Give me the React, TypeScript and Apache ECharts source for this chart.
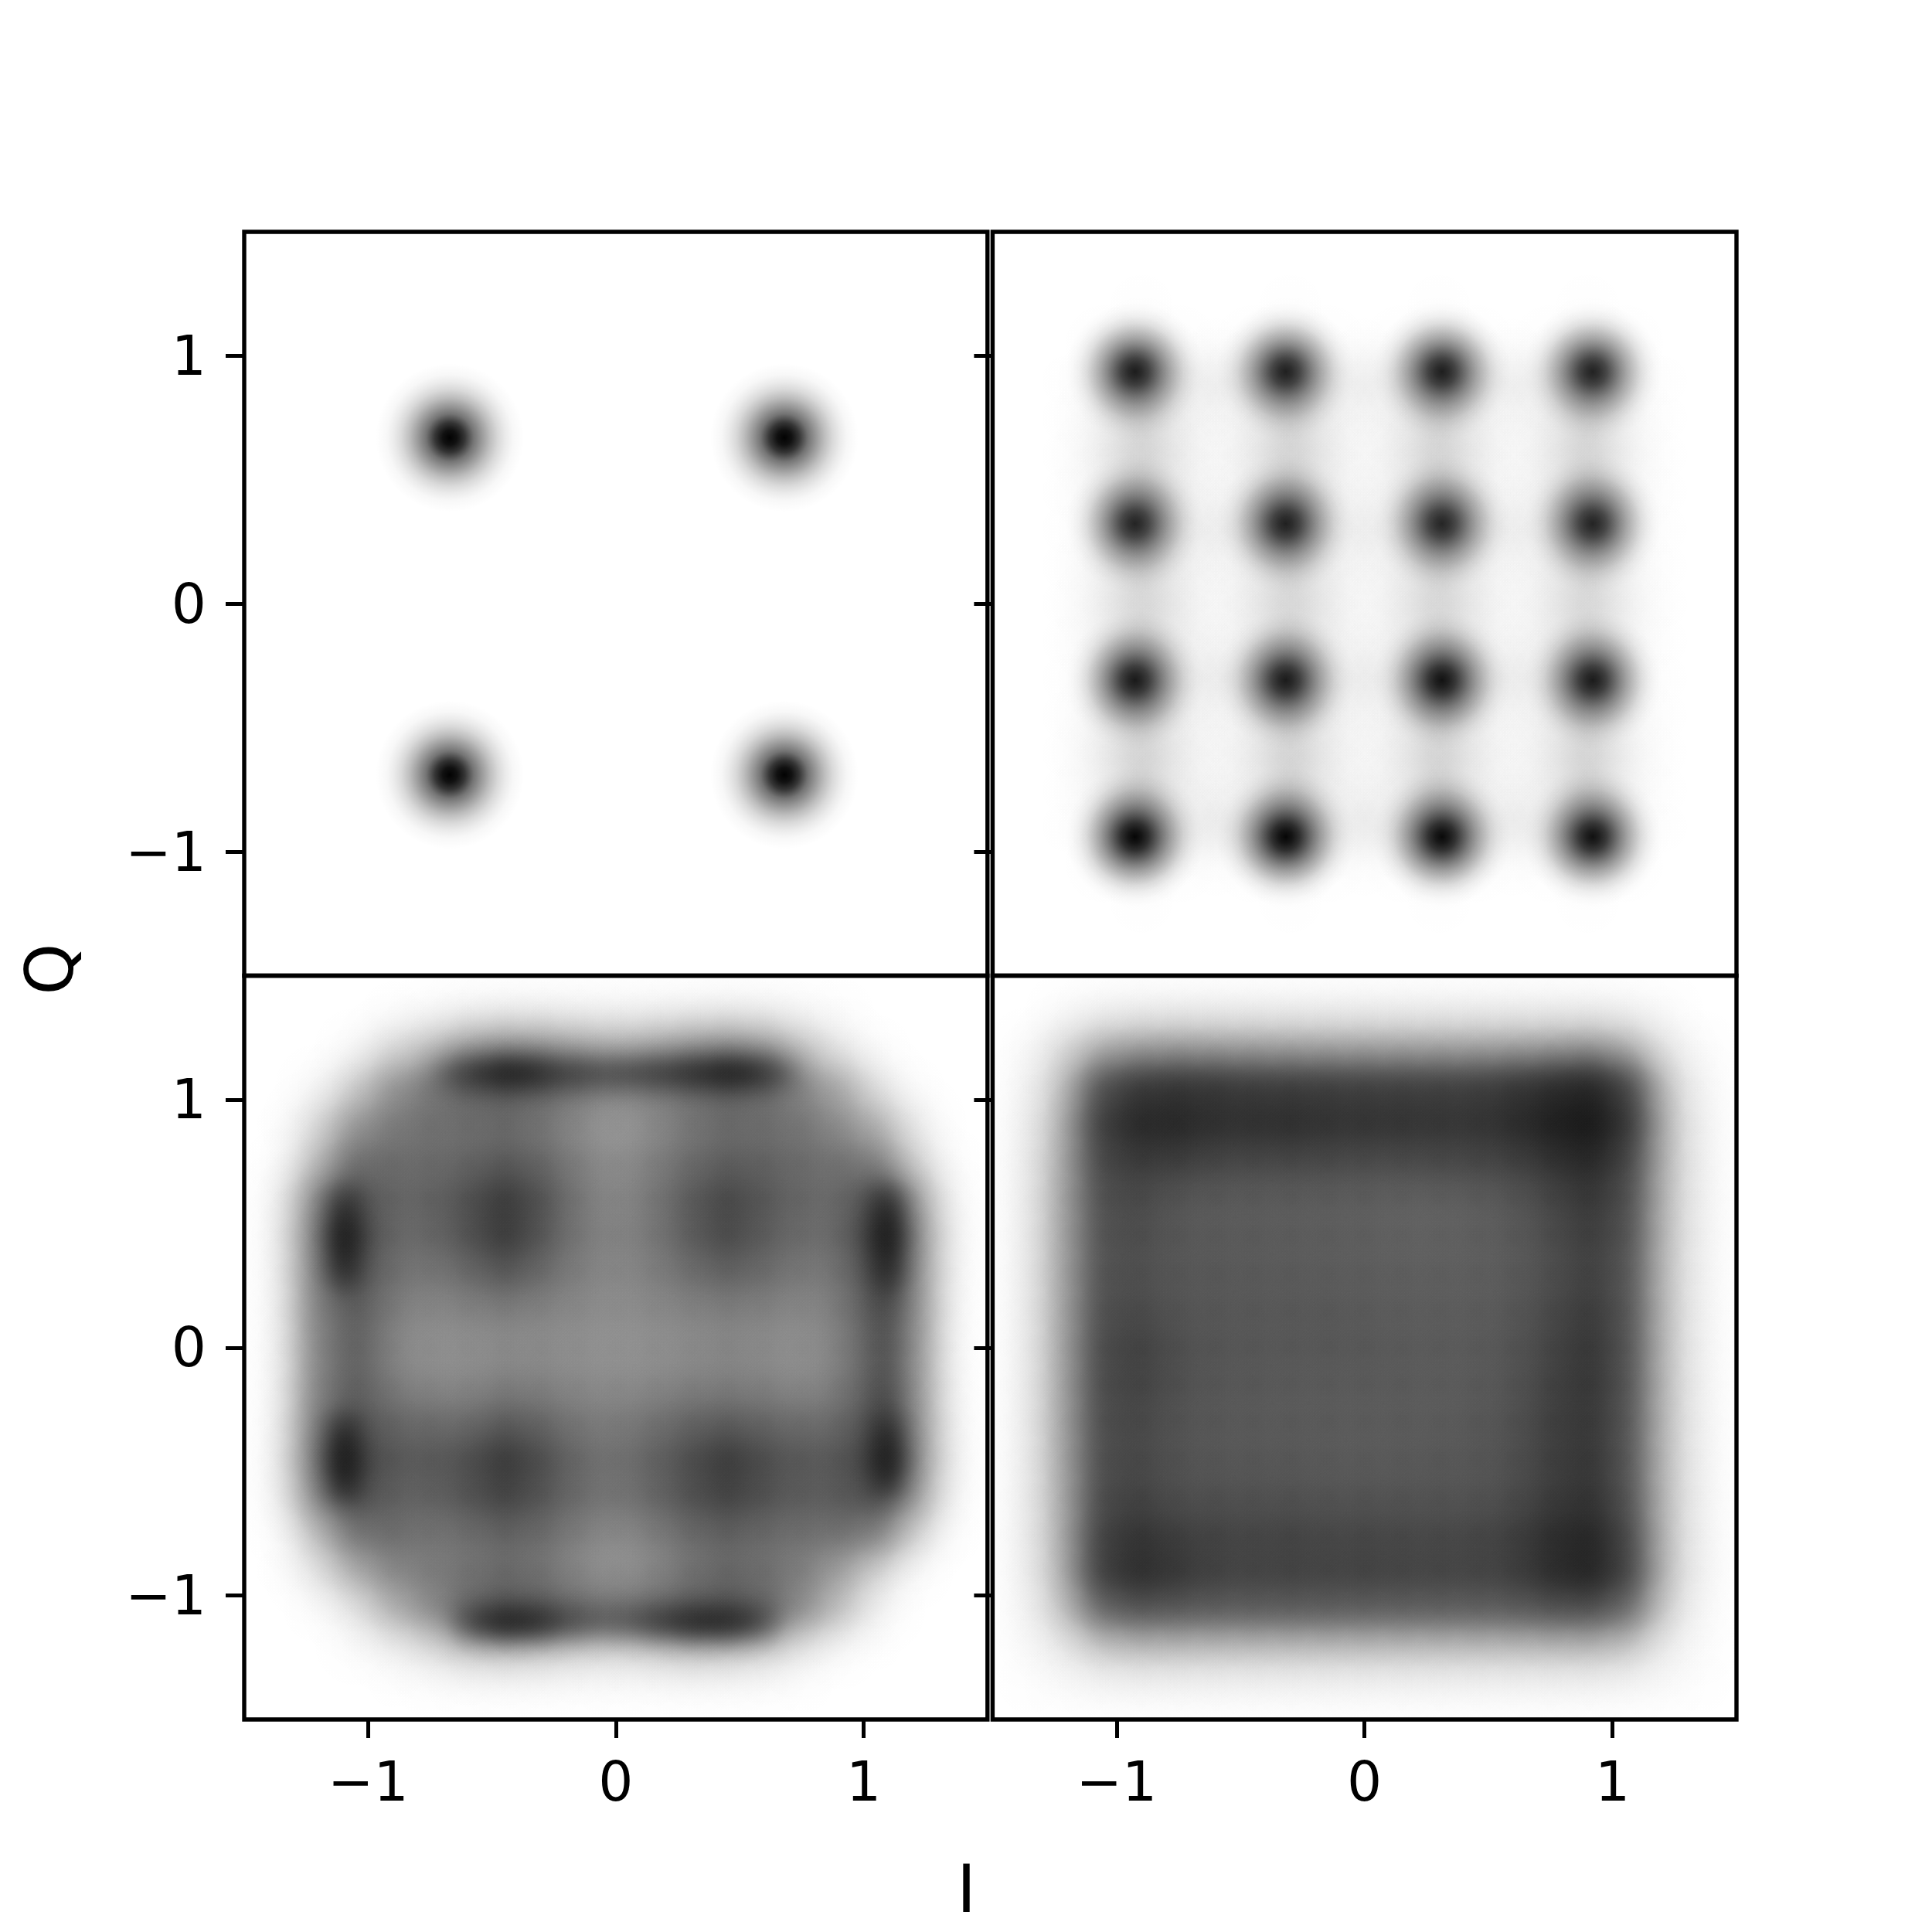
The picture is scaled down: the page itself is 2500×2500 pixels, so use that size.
import React, { useEffect, useRef } from "react";
import * as echarts from "echarts";

const tickValues = [-1, 0, 1];
const xLabel = "I";
const yLabel = "Q";

// peak grey of each constellation point: [I, Q, grey]
const qpskPoints = [
  [-0.67, 0.67, 2], [0.68, 0.67, 2],
  [-0.67, -0.69, 2], [0.68, -0.69, 2],
];
const qam16Points = [
  [-0.926, 0.936, 30], [-0.318, 0.936, 34], [0.312, 0.936, 32], [0.92, 0.936, 36],
  [-0.926, 0.323, 40], [-0.318, 0.323, 36], [0.312, 0.323, 42], [0.92, 0.323, 40],
  [-0.926, -0.308, 28], [-0.318, -0.308, 30], [0.312, -0.308, 20], [0.92, -0.308, 30],
  [-0.926, -0.94, 6], [-0.318, -0.94, 6], [0.312, -0.94, 10], [0.92, -0.94, 18],
];

// grey levels read on a grid: I from -1.5 to 1.5 by 0.15, Q from 1.5 down to -1.5 by 0.15
const qam16Haze = [
  [255,255,255,255,255,255,255,255,255,255,255,255,255,255,255,255,255,255,255,255,255],
  [255,255,255,255,255,255,255,255,255,255,255,255,255,255,255,255,255,255,255,255,255],
  [255,255,255,254,252,254,255,254,252,254,255,254,252,254,255,254,252,254,255,255,255],
  [255,255,254,250,244,250,253,250,244,250,253,250,244,250,253,250,244,250,254,255,255],
  [255,255,253,244,236,236,232,236,236,236,232,236,236,236,232,236,236,244,253,255,255],
  [255,255,253,238,202,236,247,236,202,236,247,236,202,236,247,236,202,240,253,255,255],
  [255,255,253,234,204,234,248,234,204,234,248,234,204,234,248,234,204,238,253,255,255],
  [255,255,253,238,198,236,247,236,198,236,247,236,198,236,247,236,198,240,253,255,255],
  [255,255,253,244,232,236,232,236,232,236,232,236,232,236,232,236,232,244,253,255,255],
  [255,255,253,238,204,236,247,236,204,236,247,236,204,236,247,236,204,240,253,255,255],
  [255,255,253,236,208,234,248,234,208,234,248,234,208,234,248,234,208,238,253,255,255],
  [255,255,253,238,204,236,247,236,204,236,247,236,204,236,247,236,204,240,253,255,255],
  [255,255,253,244,232,236,230,236,232,236,230,236,232,236,230,236,232,244,253,255,255],
  [255,255,253,238,204,236,246,236,204,236,246,236,204,236,246,236,204,240,253,255,255],
  [255,255,253,234,204,234,247,234,204,234,247,234,204,234,247,234,204,238,253,255,255],
  [255,255,253,238,198,236,245,236,198,236,245,236,198,236,245,236,198,240,253,255,255],
  [255,255,253,244,236,236,228,236,236,236,228,236,236,236,228,236,236,244,253,255,255],
  [255,255,254,250,244,250,252,250,244,250,252,250,244,250,252,250,244,250,254,255,255],
  [255,255,255,254,252,254,255,254,252,254,255,254,252,254,255,254,252,254,255,255,255],
  [255,255,255,255,255,255,255,255,255,255,255,255,255,255,255,255,255,255,255,255,255],
  [255,255,255,255,255,255,255,255,255,255,255,255,255,255,255,255,255,255,255,255,255],
];
const qam64Grey = [
  [255,255,255,255,255,255,255,255,255,255,255,255,255,255,255,255,255,255,255,255,255],
  [255,255,255,254,252,248,243,240,240,242,243,242,240,238,240,246,251,254,255,255,255],
  [255,255,254,248,215,190,150,135,140,155,165,155,140,130,145,190,230,251,255,255,255],
  [255,254,247,205,145,115,95,85,95,115,130,120,105,90,100,130,165,225,252,255,255],
  [255,253,215,150,120,110,110,105,118,140,155,140,118,105,110,115,140,175,232,254,255],
  [255,251,190,105,105,105,100,88,100,125,140,125,105,92,95,105,110,125,210,251,255],
  [254,243,130,75,100,95,80,52,80,118,135,118,88,65,85,100,105,70,150,246,255],
  [254,241,118,60,105,100,82,52,85,118,130,118,90,68,90,105,105,55,130,243,255],
  [254,242,122,78,110,118,105,85,105,125,135,125,108,95,105,120,115,72,135,244,255],
  [254,243,125,85,125,135,130,125,130,135,140,135,130,125,128,135,125,80,135,246,255],
  [254,243,130,90,135,142,142,138,138,142,145,142,138,132,138,142,132,88,140,247,255],
  [254,243,128,88,125,135,135,125,128,135,138,135,128,125,128,138,125,85,140,246,255],
  [254,242,120,78,100,105,108,90,100,118,122,112,98,92,100,108,105,72,135,244,255],
  [254,241,110,58,85,85,78,50,75,102,112,95,75,52,75,85,85,55,130,242,255],
  [255,243,130,72,95,95,82,62,82,105,115,100,78,62,78,90,88,72,150,246,255],
  [255,251,190,112,105,115,110,98,105,125,138,125,105,95,105,110,110,125,210,252,255],
  [255,253,225,172,132,122,115,105,115,138,148,138,115,102,110,125,160,215,249,255,255],
  [255,255,251,228,175,135,100,80,88,105,115,105,88,78,95,135,190,240,254,255,255],
  [255,255,254,249,237,218,190,180,188,200,205,195,180,185,200,228,246,253,255,255,255],
  [255,255,255,255,253,251,249,248,248,249,249,249,248,248,249,252,254,255,255,255,255],
  [255,255,255,255,255,255,255,255,255,255,255,255,255,255,255,255,255,255,255,255,255],
];
// narrow dark ridges of the 64-point panel: [I, Q, grey]
const qam64Ridges = [
  [-0.68,1.11,215],[-0.6,1.11,190],[-0.52,1.11,165],[-0.44,1.11,145],[-0.36,1.11,150],[-0.28,1.11,175],
  [-0.2,1.11,185],[-0.12,1.11,190],[-0.04,1.11,195],[0.04,1.11,190],[0.12,1.11,185],[0.2,1.11,180],
  [0.28,1.11,170],[0.36,1.11,160],[0.44,1.11,145],[0.52,1.11,150],[0.6,1.11,180],[0.68,1.11,210],
  [-0.6,-1.11,200],[-0.52,-1.11,165],[-0.44,-1.11,145],[-0.36,-1.11,150],[-0.28,-1.11,170],[-0.2,-1.11,195],
  [-0.12,-1.11,205],[-0.04,-1.11,210],[0.04,-1.11,205],[0.12,-1.11,190],[0.2,-1.11,175],[0.28,-1.11,160],
  [0.36,-1.11,150],[0.44,-1.11,155],[0.52,-1.11,170],[0.6,-1.11,205],
  [-1.1,0.6,200],[-1.1,0.52,170],[-1.1,0.44,150],[-1.1,0.36,165],[-1.1,0.28,195],
  [-1.1,-0.32,190],[-1.1,-0.4,155],[-1.1,-0.48,150],[-1.1,-0.56,175],
  [1.1,0.6,190],[1.1,0.52,160],[1.1,0.44,150],[1.1,0.36,165],[1.1,0.28,185],
  [1.1,0.2,220],[1.1,0.1,225],[1.1,0,225],[1.1,-0.1,225],[1.1,-0.2,220],
  [1.1,-0.3,195],[1.1,-0.38,165],[1.1,-0.46,155],[1.1,-0.54,180],
];
const qam256Grey = [
  [255,255,255,255,255,255,255,255,255,255,255,255,255,255,255,255,255,255,255,255,255],
  [255,254,248,240,237,236,236,236,236,236,236,236,236,236,236,236,236,240,248,254,255],
  [255,247,212,172,160,156,160,160,162,164,164,164,164,164,162,160,152,172,225,249,255],
  [254,241,188,72,52,48,50,55,55,56,58,58,58,58,50,42,32,62,195,243,254],
  [254,237,172,55,36,36,45,45,42,48,48,48,50,50,42,30,20,50,185,240,254],
  [254,235,165,65,58,62,70,72,72,72,75,75,72,70,65,52,38,65,185,240,254],
  [254,235,160,72,72,85,88,90,90,92,92,95,95,92,85,70,52,72,188,240,254],
  [254,235,160,75,75,85,88,88,90,90,92,95,95,92,88,75,58,75,190,240,254],
  [254,235,160,75,78,85,85,88,88,90,90,92,92,92,88,78,62,80,192,241,254],
  [254,235,160,72,72,82,85,85,86,85,88,90,90,90,85,72,55,78,190,241,254],
  [254,235,160,68,62,78,82,85,85,85,85,88,88,88,82,68,50,78,190,241,254],
  [254,235,160,68,65,78,85,85,88,88,88,88,90,88,82,65,50,78,190,241,254],
  [254,235,160,70,70,82,85,88,88,88,90,88,90,85,80,62,52,80,190,241,254],
  [254,235,162,70,70,80,85,85,85,88,88,88,85,85,78,62,50,80,190,241,254],
  [254,235,165,68,65,78,78,80,80,82,82,82,82,82,75,60,48,78,190,241,254],
  [254,235,168,60,50,62,65,68,65,70,68,70,70,68,62,45,35,68,190,241,254],
  [254,237,172,55,40,52,62,65,62,65,62,65,65,65,60,42,30,62,190,241,254],
  [254,241,190,95,82,85,88,88,88,88,90,90,90,90,88,80,78,100,205,246,254],
  [254,246,228,198,190,190,192,192,192,192,192,192,192,192,192,190,188,198,232,249,254],
  [255,252,247,243,241,241,241,241,241,241,241,241,241,241,241,241,241,243,247,252,255],
  [255,255,255,255,255,255,255,255,255,255,255,255,255,255,255,255,255,255,255,255,255],
];

const SIDE = 2500;
const LEFTS = [316, 1284.4];
const WIDTHS = [961.8, 962.6];
const TOPS = [300, 1262.5];
const HEIGHT = 962.5;
const STEP = 0.15;
const SIGMA = 0.085;
const FONT = "DejaVu Sans";

const gridToPoints = (rows: number[][]) => {
  const pts: number[][] = [];
  rows.forEach((row, j) =>
    row.forEach((g, i) => {
      if (g < 255) pts.push([-1.5 + STEP * i, 1.5 - STEP * j, g]);
    })
  );
  return pts;
};

const KERNEL_T = [0, 0.08, 0.16, 0.24, 0.32, 0.4, 0.48, 0.56, 0.64, 0.72, 0.8, 0.9];
// soft cell: its log-darkness adds up over the lattice to the grey that was read
const softCell = (params: any, api: any) => {
  const c = api.coord([api.value(0), api.value(1)]);
  const r = api.size([SIGMA * 3, 0])[0];
  const w = -Math.log(api.value(2) / 255) * (STEP * STEP) / (2 * Math.PI * SIGMA * SIGMA);
  const colorStops = KERNEL_T.map((t) => ({
    offset: t,
    color: `rgba(0,0,0,${(1 - Math.exp(-w * Math.exp(-4.5 * t * t))).toFixed(4)})`,
  }));
  colorStops.push({ offset: 1, color: "rgba(0,0,0,0)" });
  return {
    type: "circle",
    shape: { cx: c[0], cy: c[1], r },
    style: { fill: { type: "radial", x: 0.5, y: 0.5, r: 0.5, colorStops } },
  };
};

const makeDot = (radius: number, stops: number[][]) => (params: any, api: any) => {
  const c = api.coord([api.value(0), api.value(1)]);
  const r = api.size([radius, 0])[0];
  const peak = 1 - api.value(2) / 255;
  return {
    type: "circle",
    shape: { cx: c[0], cy: c[1], r },
    style: {
      fill: {
        type: "radial", x: 0.5, y: 0.5, r: 0.5,
        colorStops: stops.map(([offset, a]) => ({
          offset,
          color: `rgba(0,0,0,${(a * peak).toFixed(4)})`,
        })),
      },
    },
  };
};
const QPSK_PROFILE = [
  [0, 1], [0.1, 0.94], [0.2, 0.8], [0.32, 0.55], [0.43, 0.4], [0.54, 0.26],
  [0.65, 0.15], [0.75, 0.08], [0.85, 0.03], [1, 0],
];
const QAM16_PROFILE = [
  [0, 1], [0.1, 0.93], [0.2, 0.82], [0.3, 0.66], [0.4, 0.5], [0.5, 0.36],
  [0.6, 0.24], [0.7, 0.13], [0.8, 0.06], [0.9, 0.02], [1, 0],
];
const RIDGE_PROFILE = [
  [0, 1], [0.15, 0.9], [0.3, 0.67], [0.45, 0.4], [0.6, 0.2], [0.75, 0.08], [0.9, 0.025], [1, 0],
];

const axisText = { fontFamily: FONT, fontSize: 71, color: "#000" };
const fmt = (v: number) => String(v).replace("-", "\u2212");

export default function App() {
  const ref = useRef<HTMLDivElement>(null);
  useEffect(() => {
    const chart = echarts.init(ref.current!, null, { renderer: "svg" });
    const panels = [[0, 0], [1, 0], [0, 1], [1, 1]];
    const grid = panels.map(([c, r]) => ({
      left: LEFTS[c], top: TOPS[r], width: WIDTHS[c], height: HEIGHT,
      show: true, borderColor: "#000", borderWidth: 5.4, backgroundColor: "transparent",
    }));
    const xAxis = panels.map(([, r], i) => ({
      type: "value", gridIndex: i, min: -1.5, max: 1.5, position: "bottom",
      splitLine: { show: false }, axisLine: { show: false, onZero: false },
      axisTick: { show: r === 1, length: 24, lineStyle: { width: 5, color: "#000" }, customValues: tickValues },
      axisLabel: { show: r === 1, margin: 45, formatter: fmt, customValues: tickValues, ...axisText },
      z: 5,
    }));
    const yAxis = panels.map(([c], i) => ({
      type: "value", gridIndex: i, min: -1.5, max: 1.5, position: "left",
      splitLine: { show: false }, axisLine: { show: false, onZero: false },
      axisTick: { show: true, length: 24, lineStyle: { width: 5, color: "#000" }, customValues: tickValues },
      axisLabel: { show: c === 0, margin: 49, formatter: fmt, customValues: tickValues, ...axisText },
      z: 5,
    }));
    const layer = (i: number, data: number[][], renderItem: any) => ({
      type: "custom", coordinateSystem: "cartesian2d", xAxisIndex: i, yAxisIndex: i,
      data, renderItem, clip: true, silent: true, encode: { x: 0, y: 1 }, z: 2,
    });
    chart.setOption({
      animation: false,
      backgroundColor: "#fff",
      grid, xAxis, yAxis,
      series: [
        layer(0, qpskPoints, makeDot(0.3, QPSK_PROFILE)),
        layer(1, gridToPoints(qam16Haze), softCell),
        layer(1, qam16Points, makeDot(0.28, QAM16_PROFILE)),
        layer(2, gridToPoints(qam64Grey), softCell),
        layer(2, qam64Ridges, makeDot(0.17, RIDGE_PROFILE)),
        layer(3, gridToPoints(qam256Grey), softCell),
      ],
      graphic: [
        { type: "text", x: 1250.5, y: 2444, style: { text: xLabel, fontFamily: FONT, fontSize: 85, fill: "#000", textAlign: "center", textVerticalAlign: "middle" } },
        { type: "text", x: 64, y: 1254, rotation: Math.PI / 2, style: { text: yLabel, fontFamily: FONT, fontSize: 85, fill: "#000", textAlign: "center", textVerticalAlign: "middle" } },
      ],
    });
    return () => chart.dispose();
  }, []);
  return <div ref={ref} style={{ position: "absolute", left: 0, top: 0, width: SIDE, height: SIDE }} />;
}
